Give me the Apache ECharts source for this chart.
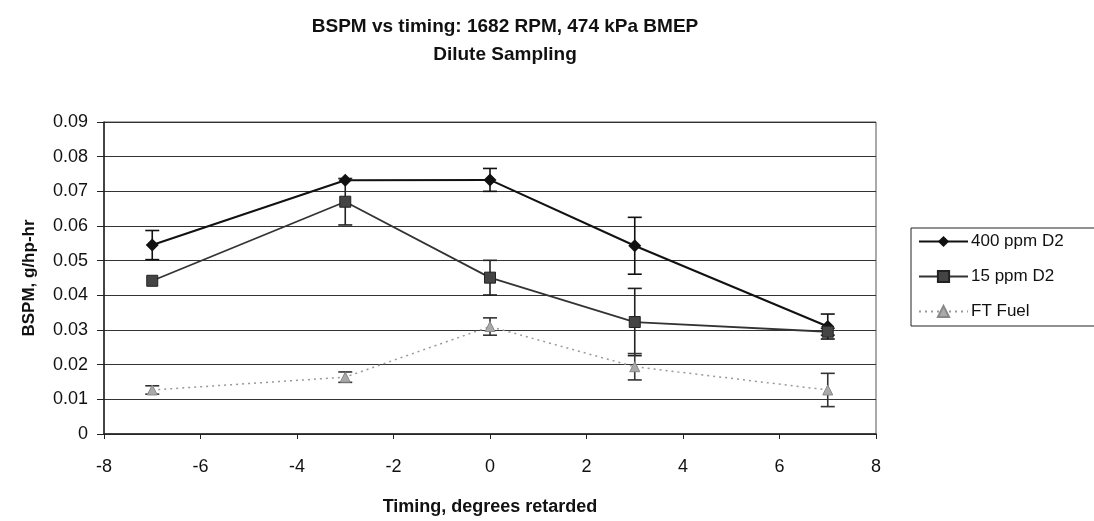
<!DOCTYPE html>
<html><head><meta charset="utf-8">
<script src="https://cdn.jsdelivr.net/npm/echarts@6/dist/echarts.min.js"></script>
<style>html,body{margin:0;padding:0;background:#fff}#c{width:1094px;height:521px}</style>
</head><body><div id="c"></div>
<script>
const timing = [-7, -3, 0, 3, 7];
const bspm400 = [0.0545, 0.0732, 0.0733, 0.0543, 0.0310];
const err400 = [0.0042, 0.0, 0.0033, 0.0082, 0.0036];
const bspm15 = [0.0442, 0.0670, 0.0451, 0.0323, 0.0295];
const err15 = [0.0, 0.0067, 0.0050, 0.0097, 0.0010];
const bspmFT = [0.0127, 0.0164, 0.0310, 0.0194, 0.0127];
const errFT = [0.0012, 0.0015, 0.0025, 0.0038, 0.0048];
const xTicks = [-8, -6, -4, -2, 0, 2, 4, 6, 8];
const yTicks = [0, 0.01, 0.02, 0.03, 0.04, 0.05, 0.06, 0.07, 0.08, 0.09];

const FONT = 'Liberation Sans, Arial, sans-serif';
function errData(vals, errs){ return timing.map((t,i)=>[t, vals[i]-errs[i], vals[i]+errs[i]]).filter((d,i)=>errs[i]>0); }
function errSeries(vals, errs, color){
  return {type:'custom', silent:true, z:1, data: errData(vals, errs),
    renderItem(params, api){
      const lo = api.coord([api.value(0), api.value(1)]);
      const hi = api.coord([api.value(0), api.value(2)]);
      const w = 7;
      const st = {stroke: color, lineWidth: 1.6};
      return {type:'group', children:[
        {type:'line', shape:{x1:lo[0],y1:lo[1],x2:hi[0],y2:hi[1]}, style:st},
        {type:'line', shape:{x1:lo[0]-w,y1:lo[1],x2:lo[0]+w,y2:lo[1]}, style:st},
        {type:'line', shape:{x1:hi[0]-w,y1:hi[1],x2:hi[0]+w,y2:hi[1]}, style:st}
      ]};
    }};
}
const chart = echarts.init(document.getElementById('c'));
chart.setOption({
  animation:false,
  backgroundColor:'#fff',
  title:{text:'BSPM vs timing: 1682 RPM, 474 kPa BMEP\nDilute Sampling', left:500, top:8, textAlign:'center',
    textStyle:{fontFamily:FONT, fontSize:19, fontWeight:'bold', color:'#111', lineHeight:28}},
  grid:{left:104, right:218, top:122, bottom:87, show:true, borderColor:'#555', borderWidth:1},
  legend:{orient:'vertical', left:911, top:228, padding:[5,60,6,7], itemGap:18,
    borderColor:'#222', borderWidth:1, itemWidth:49, itemHeight:14,
    textStyle:{fontFamily:FONT, fontSize:17, color:'#111', padding:[0,0,0,-2]},
    data:['400 ppm D2','15 ppm D2','FT Fuel']},
  xAxis:{type:'value', min:-8, max:8, interval:2, name:'Timing, degrees retarded', nameLocation:'middle', nameGap:64,
    nameTextStyle:{fontFamily:FONT, fontSize:18, fontWeight:'bold', color:'#111'},
    axisLine:{onZero:false, lineStyle:{color:'#222', width:1.5}}, axisTick:{show:true, length:5, inside:false, lineStyle:{color:'#222'}},
    axisLabel:{fontFamily:FONT, fontSize:18, color:'#111', margin:24}, splitLine:{show:false}},
  yAxis:{type:'value', min:0, max:0.09, interval:0.01, name:'BSPM, g/hp-hr', nameLocation:'middle', nameGap:66,
    nameTextStyle:{fontFamily:FONT, fontSize:17, fontWeight:'bold', color:'#111'},
    axisLine:{show:true, onZero:false, lineStyle:{color:'#222', width:1.5}}, axisTick:{show:true, length:7, lineStyle:{color:'#222'}},
    axisLabel:{fontFamily:FONT, fontSize:18, color:'#111', margin:16, formatter:v=>v===0?'0':v.toFixed(2)},
    splitLine:{show:true, lineStyle:{color:'#333', width:1.2}}},
  series:[
    errSeries(bspm400, err400, '#111'),
    errSeries(bspm15, err15, '#222'),
    errSeries(bspmFT, errFT, '#333'),
    {name:'400 ppm D2', type:'line', z:3, data:timing.map((t,i)=>[t,bspm400[i]]), symbol:'diamond', symbolSize:13,
      lineStyle:{color:'#111', width:2}, itemStyle:{color:'#111'}},
    {name:'15 ppm D2', type:'line', z:3, data:timing.map((t,i)=>[t,bspm15[i]]), symbol:'rect', symbolSize:11,
      lineStyle:{color:'#333', width:1.8}, itemStyle:{color:'#444', borderColor:'#222', borderWidth:1}},
    {name:'FT Fuel', type:'line', z:3, data:timing.map((t,i)=>[t,bspmFT[i]]), symbol:'triangle', symbolSize:10,
      lineStyle:{color:'#999', width:1.5, type:[2,4]}, itemStyle:{color:'#aaa', borderColor:'#888', borderWidth:1}}
  ]
});
</script></body></html>
